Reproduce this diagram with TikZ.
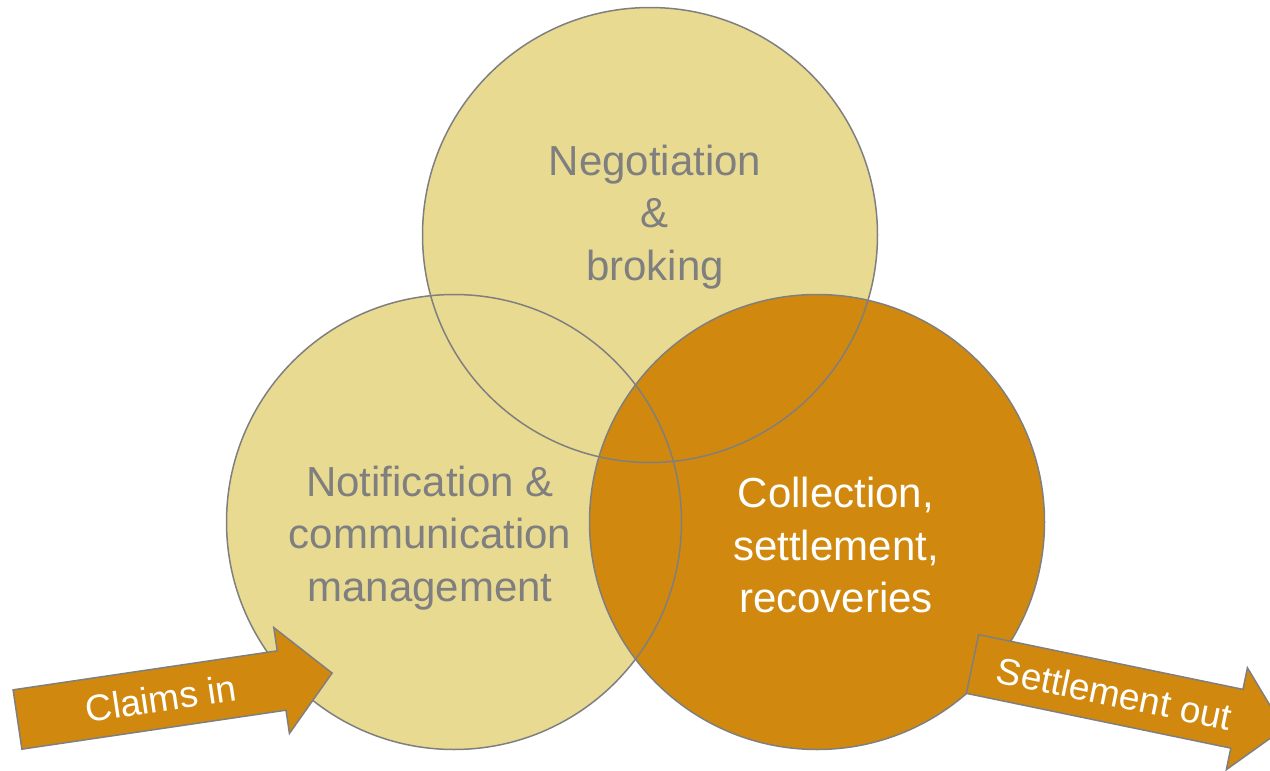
\documentclass[tikz,border=0pt]{standalone}
\usepackage{fontspec}
\setmainfont{Liberation Sans}
\usepackage{tikz}

\definecolor{sand}{HTML}{E9DA92}
\definecolor{ochre}{HTML}{D0890E}
\definecolor{rim}{HTML}{7F7F7F}

\begin{document}
\begin{tikzpicture}[x=1pt, y=-1pt,
  disc/.style={circle, minimum size=455pt, inner sep=0pt},
  blurb/.style={align=center, font=\fontsize{42}{52.5}\selectfont, text=rim},
  tag/.style={font=\fontsize{37}{44}\selectfont, text=white, transform shape}]
\useasboundingbox (0,0) rectangle (1270,771);
\clip (0,0) rectangle (1270,771);

% Circle fills
\node[disc, fill=sand] (nego) at (650,235) {};
\node[disc, fill=sand] (notif) at (454,522) {};
\node[disc, fill=ochre] (settle) at (817,522) {};

% Circle outlines (drawn over all fills)
\draw[rim, line width=1.5pt] (nego.center) circle[radius=227.5pt];
\draw[rim, line width=1.5pt] (notif.center) circle[radius=227.5pt];
\draw[rim, line width=1.5pt] (settle.center) circle[radius=227.5pt];

% Circle texts
\node[blurb] (negotext) at (655,217) {Negotiation\\\&\\broking};
\node[blurb] (notiftext) at (430,538) {Notification \&\\communication\\management};
\node[blurb, text=white] (settletext) at (836,545) {Collection,\\settlement,\\recoveries};

% Claims in arrow
\begin{scope}[shift={(17.5,719.5)}, rotate=8.4]
\filldraw[fill=ochre, draw=rim, line width=1.5pt] (0,-30) -- (267,-30) -- (267,-53.5) -- (318,0) -- (267,53.5) -- (267,30) -- (0,30) -- cycle;
\node[tag] (claims) at (145,0) {Claims in};
\end{scope}

% Settlement out arrow
\begin{scope}[shift={(972.5,664)}, rotate=-11.7]
\filldraw[fill=ochre, draw=rim, line width=1.5pt] (0,-30) -- (270,-30) -- (270,-52) -- (318,0) -- (270,52) -- (270,30) -- (0,30) -- cycle;
\node[tag] (settleout) at (145,0) {Settlement out};
\end{scope}

\end{tikzpicture}
\end{document}
